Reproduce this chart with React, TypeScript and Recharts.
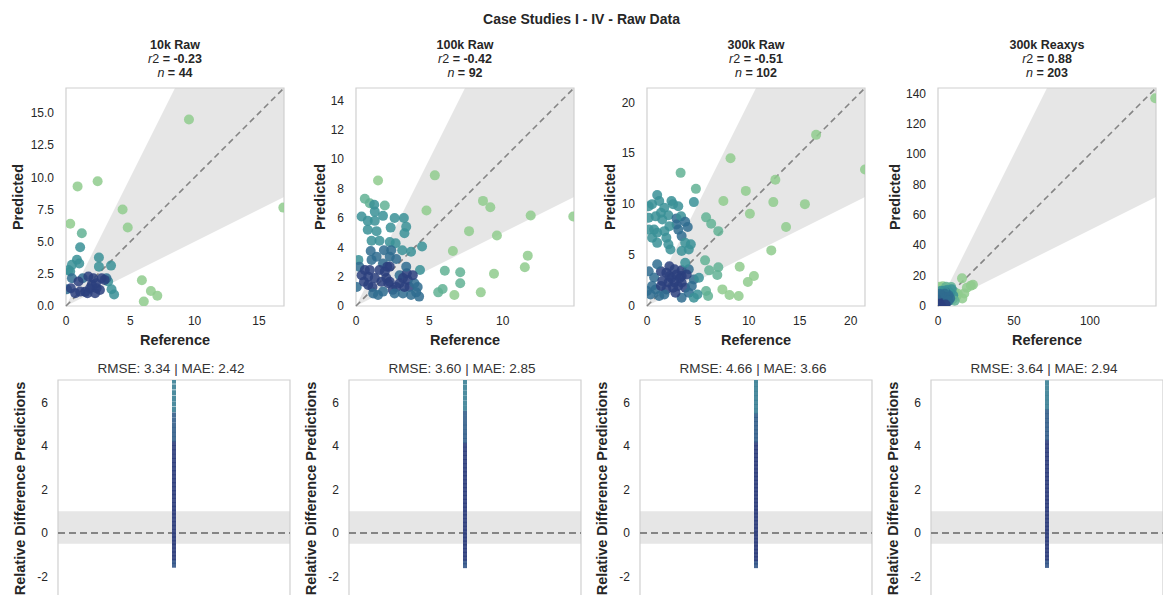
import React from 'react';
import {
  ComposedChart,
  Scatter,
  Area,
  XAxis,
  YAxis,
  ReferenceLine,
  ReferenceArea,
  Label,
} from 'recharts';

// [reference, predicted, density level 0 (sparse) .. 4 (dense)]
const raw10kPoints: number[][] = [
  [9.56, 14.5, 0], [0.9, 9.3, 0], [2.46, 9.7, 0], [0.33, 6.4, 0], [4.4, 7.5, 0],
  [4.8, 6.1, 0], [16.9, 7.65, 0], [5.9, 2.0, 0], [6.05, 0.35, 0], [6.6, 1.17, 0],
  [7.1, 0.8, 0], [1.23, 5.66, 1], [1.1, 4.57, 2], [2.56, 3.77, 2], [2.56, 3.06, 2],
  [3.5, 3.14, 2], [3.54, 1.3, 2], [3.74, 0.9, 2], [0.33, 2.68, 2], [0.85, 3.6, 2],
  [1.03, 3.3, 2], [0.46, 3.2, 2], [0.2, 2.8, 2], [3.28, 1.9, 2], [0.08, 1.3, 3],
  [0.46, 2.16, 3], [1.3, 2.16, 3], [3.15, 2.16, 3], [0.97, 1.9, 4], [1.74, 2.29, 4],
  [1.87, 1.38, 4], [1.5, 1.1, 4], [2.26, 1.0, 4], [2.38, 1.38, 4], [2.64, 1.25, 4],
  [2.77, 2.16, 4], [3.0, 2.03, 4], [0.72, 1.0, 4], [0.38, 1.38, 4], [2.13, 2.16, 4],
  [2.33, 1.77, 4], [1.67, 0.99, 4], [1.1, 1.12, 4], [2.0, 1.64, 4],
];

const raw100kPoints: number[][] = [
  [1.5, 8.55, 0], [5.37, 8.9, 0], [4.8, 6.5, 0], [8.65, 7.16, 0], [9.15, 6.73, 0],
  [11.9, 6.16, 0], [14.8, 6.1, 0], [7.7, 5.1, 0], [9.6, 4.8, 0], [6.6, 3.75, 0],
  [11.7, 3.43, 0], [11.5, 2.64, 0], [6.05, 2.4, 1], [7.1, 2.3, 1], [7.1, 1.55, 1],
  [9.4, 2.2, 0], [5.6, 0.93, 1], [5.9, 1.16, 1], [6.7, 0.75, 0], [8.5, 0.93, 0],
  [0.6, 7.3, 1], [0.94, 7.0, 1], [1.24, 6.9, 2], [1.96, 6.84, 1], [1.28, 6.43, 2],
  [0.38, 6.1, 2], [0.8, 5.8, 2], [1.28, 5.8, 2], [1.84, 6.14, 2], [0.8, 5.2, 2],
  [2.63, 6.0, 2], [3.26, 6.0, 2], [3.42, 5.4, 2], [3.3, 4.95, 2], [2.36, 5.34, 2],
  [1.06, 4.45, 2], [1.6, 4.45, 2], [2.3, 4.36, 2], [2.7, 4.27, 2], [4.5, 4.05, 2],
  [3.15, 3.8, 2], [3.75, 3.7, 2], [2.4, 3.8, 3], [1.9, 3.8, 3], [1.4, 3.36, 3],
  [1.0, 3.75, 3], [2.3, 3.36, 3], [2.74, 3.2, 3], [0.16, 3.14, 2], [0.22, 2.68, 3],
  [1.06, 3.14, 3], [1.84, 2.9, 3], [4.36, 2.45, 2], [2.97, 2.1, 3], [0.38, 2.1, 4],
  [0.83, 2.0, 4], [1.28, 1.9, 4], [2.07, 1.9, 4], [2.3, 1.65, 4], [2.13, 2.68, 4],
  [3.2, 1.9, 4], [3.53, 1.77, 4], [3.64, 1.3, 4], [3.98, 1.55, 3], [3.2, 0.86, 3],
  [3.75, 0.75, 3], [4.1, 0.93, 3], [2.5, 1.1, 4], [2.2, 1.55, 4], [1.12, 1.3, 4],
  [0.83, 1.43, 4], [1.17, 0.86, 3], [0.05, 1.3, 3], [1.6, 2.45, 4], [1.96, 2.34, 4],
  [3.46, 2.23, 4], [2.74, 1.3, 4], [0.54, 1.65, 4], [2.97, 1.55, 4], [1.73, 1.65, 4],
  [4.2, 1.3, 3], [3.3, 1.3, 4], [3.42, 2.68, 3], [1.4, 5.1, 2], [2.3, 2.68, 4],
  [0.94, 2.45, 4], [1.5, 0.75, 3], [0.6, 2.45, 4], [2.63, 0.86, 3], [1.84, 0.98, 3],
  [4.3, 0.64, 3], [3.87, 2.1, 4],
];

const raw300kPoints: number[][] = [
  [8.2, 14.5, 0], [16.6, 16.8, 0], [21.4, 13.4, 0], [12.6, 12.4, 0], [9.7, 11.3, 0],
  [7.5, 10.3, 0], [12.4, 10.2, 0], [15.5, 10.0, 0], [10.1, 9.05, 0], [13.65, 7.75, 0],
  [12.2, 5.46, 0], [9.1, 3.86, 0], [10.5, 2.94, 0], [9.9, 2.35, 0], [7.4, 1.63, 0],
  [8.1, 1.08, 0], [9.0, 0.98, 0], [7.0, 3.8, 1], [4.8, 11.5, 1], [4.6, 10.2, 2],
  [5.8, 8.7, 1], [6.3, 8.07, 1], [7.0, 7.35, 1], [5.7, 4.48, 1], [6.1, 3.5, 1],
  [6.9, 3.04, 1], [3.3, 13.07, 1], [5.8, 1.47, 1], [6.0, 0.98, 1], [4.95, 1.14, 2],
  [1.0, 10.9, 2], [0.5, 10.0, 2], [1.2, 10.3, 2], [2.4, 10.3, 2], [2.56, 10.0, 2],
  [1.7, 9.64, 2], [1.37, 9.15, 2], [0.17, 8.66, 2], [0.85, 8.8, 2], [2.1, 8.9, 2],
  [2.9, 8.6, 3], [3.35, 8.8, 2], [3.75, 8.27, 3], [2.9, 8.0, 3], [2.2, 7.84, 2],
  [4.0, 7.75, 3], [0.7, 7.5, 2], [1.0, 7.2, 2], [1.9, 6.7, 2], [3.4, 6.86, 3],
  [0.5, 6.7, 2], [3.75, 6.2, 2], [4.3, 6.05, 2], [1.0, 6.2, 2], [2.1, 6.05, 2],
  [3.4, 5.4, 2], [2.3, 5.55, 2], [4.1, 5.55, 2], [0.17, 9.8, 2], [3.07, 7.5, 3],
  [0.17, 3.4, 3], [0.7, 2.8, 3], [1.37, 3.4, 4], [1.9, 3.27, 4], [2.7, 3.6, 4],
  [3.4, 3.5, 4], [4.1, 3.6, 3], [4.6, 2.6, 3], [1.5, 2.45, 4], [2.1, 2.3, 4],
  [2.7, 2.3, 4], [3.07, 1.96, 4], [3.4, 2.3, 4], [3.75, 1.8, 4], [2.56, 1.8, 4],
  [1.9, 1.63, 4], [0.85, 1.63, 3], [0.34, 1.14, 3], [1.2, 0.98, 3], [2.4, 2.78, 4],
  [3.24, 2.78, 4], [4.1, 1.3, 3], [3.4, 0.82, 3], [4.4, 1.96, 3], [2.2, 2.94, 4],
  [2.9, 3.1, 4], [1.7, 1.14, 3], [0.5, 1.96, 3], [0.0, 1.47, 3], [4.6, 0.82, 2],
  [2.8, 1.3, 4], [3.4, 2.94, 4], [1.5, 8.5, 2], [3.07, 9.8, 2], [0.17, 7.5, 2],
  [1.7, 7.35, 2], [3.75, 4.25, 2], [1.0, 4.1, 3], [2.2, 3.9, 4], [3.9, 3.1, 4],
  [1.37, 1.96, 4], [5.1, 2.78, 2],
];

const reaxysPoints: number[][] = [
  [143.0, 136.7, 0], [15.8, 18.2, 0], [21.6, 13.4, 0], [17.3, 8.3, 0], [19.0, 12.0, 0],
  [12.0, 6.1, 0], [23.0, 14.0, 0], [16.0, 5.0, 0], [3.2, 13.0, 0], [1.1, 12.7, 0],
  [8.7, 12.5, 1], [11.0, 9.0, 1], [9.6, 4.4, 1], [13.0, 8.0, 0], [5.4, 12.7, 1],
  [9.0, 11.0, 2], [10.0, 7.0, 2], [2.0, 10.0, 2], [6.0, 10.5, 2], [8.0, 8.5, 2],
  [11.0, 3.5, 1], [3.0, 8.0, 3], [5.0, 9.0, 3], [7.0, 7.0, 3], [1.0, 6.0, 3],
  [6.0, 3.0, 3], [8.0, 5.0, 3], [4.0, 10.0, 2], [2.0, 2.0, 4], [3.0, 4.0, 4],
  [4.0, 3.0, 4], [5.0, 5.0, 4], [1.0, 1.0, 4], [2.0, 5.0, 4], [3.0, 1.5, 4],
  [4.0, 6.0, 4], [5.0, 2.0, 4], [6.0, 4.0, 3], [1.5, 3.0, 4], [2.5, 7.0, 3],
  [3.5, 5.5, 4], [0.5, 4.0, 4], [4.5, 8.0, 3], [6.0, 6.0, 3], [7.0, 3.5, 3],
  [1.0, 8.0, 3], [2.0, 0.5, 4], [5.0, 1.0, 4],
];

// relative difference of predictions, one strip per case study
const raw10kRelDiff = [
  -1.48, -1.31, -1.14, -0.96, -0.79, -0.6, -0.44, -0.27, -0.1, 0.07, 0.26, 0.43,
  0.61, 0.79, 0.96, 1.14, 1.31, 1.5, 1.69, 1.86, 2.04, 2.23, 2.41, 2.59, 2.78,
  2.96, 3.15, 3.34, 3.53, 3.74, 3.93, 4.13, 4.33, 4.54, 4.75, 4.96, 5.2, 5.44,
  5.69, 5.95, 6.2, 6.46, 6.73, 7.0,
];
const raw100kRelDiff = [
  -1.5, -1.33, -1.16, -0.98, -0.81, -0.63, -0.46, -0.29, -0.12, 0.05, 0.22, 0.4,
  0.57, 0.75, 0.92, 1.1, 1.28, 1.46, 1.64, 1.82, 2.0, 2.18, 2.36, 2.55, 2.73,
  2.91, 3.1, 3.29, 3.48, 3.67, 3.86, 4.06, 4.26, 4.46, 4.66, 4.87, 5.08, 5.3,
  5.52, 5.75, 5.98, 6.22, 6.46, 6.71, 6.96, 7.3,
];
const raw300kRelDiff = [
  -1.5, -1.34, -1.18, -1.01, -0.85, -0.68, -0.51, -0.35, -0.18, -0.02, 0.15,
  0.31, 0.48, 0.65, 0.82, 0.98, 1.15, 1.32, 1.49, 1.66, 1.83, 2.0, 2.17, 2.34,
  2.52, 2.69, 2.86, 3.04, 3.21, 3.39, 3.57, 3.75, 3.93, 4.11, 4.29, 4.48, 4.66,
  4.85, 5.04, 5.23, 5.42, 5.62, 5.82, 6.02, 6.22, 6.43, 6.64, 6.85, 7.06,
];
const reaxysRelDiff = [
  -1.49, -1.32, -1.15, -0.98, -0.8, -0.63, -0.46, -0.29, -0.12, 0.05, 0.22,
  0.39, 0.57, 0.74, 0.91, 1.09, 1.26, 1.44, 1.61, 1.79, 1.97, 2.15, 2.33, 2.51,
  2.69, 2.87, 3.06, 3.24, 3.43, 3.62, 3.81, 4.0, 4.19, 4.39, 4.58, 4.78, 4.98,
  5.18, 5.39, 5.6, 5.81, 6.02, 6.24, 6.46, 6.69, 6.92, 7.2,
];

const panelNames = ['10k Raw', '100k Raw', '300k Raw', '300k Reaxys'];
const r2Values = ['-0.23', '-0.42', '-0.51', '0.88'];
const nValues = [44, 92, 102, 203];
const rmseValues = ['3.34', '3.60', '4.66', '3.64'];
const maeValues = ['2.42', '2.85', '3.66', '2.94'];
const axisMax = [16.95, 14.85, 21.4, 143.5];
const xTicks = [[0, 5, 10, 15], [0, 5, 10], [0, 5, 10, 15, 20], [0, 50, 100]];
const yTicks = [
  [0, 2.5, 5, 7.5, 10, 12.5, 15],
  [0, 2, 4, 6, 8, 10, 12, 14],
  [0, 5, 10, 15, 20],
  [0, 20, 40, 60, 80, 100, 120, 140],
];
const relTicks = [-2, 0, 2, 4, 6];
const pointSets = [raw10kPoints, raw100kPoints, raw300kPoints, reaxysPoints];
const relSets = [raw10kRelDiff, raw100kRelDiff, raw300kRelDiff, reaxysRelDiff];

const CONE_LOW = 0.5;
const CONE_HIGH = 2;
const REL_BAND: [number, number] = [-0.5, 1];
const REL_DOMAIN: [number, number] = [-2.95, 7.05];

const LEVEL_COLORS = ['#8fcb8d', '#62b294', '#3a9096', '#2f6c8f', '#2b3f7e'];
const TEXT = '#262626';
const FRAME = '#d0d0d0';
const FONT = '"Liberation Sans", Arial, Helvetica, sans-serif';

// top row geometry
const TOP_PLOT_LEFT = [66, 356, 647, 938];
const TOP_PLOT_TOP = 88;
const TOP_PLOT_SIZE = 218;
const TOP_YAXIS_W = 62;
const TOP_LABEL_GAP = [48, 36, 37, 43];

// bottom row geometry
const BOT_PLOT_LEFT = [58, 349, 640, 931];
const BOT_PLOT_TOP = 380;
const BOT_PLOT_W = 232;
const BOT_PLOT_H = 217;
const BOT_YAXIS_W = 55;

function stripColor(v: number) {
  if (v > 5.6) return '#3a7f95';
  if (v > 4.2) return '#345f8b';
  if (v < -1.2) return '#34568a';
  return '#303f7d';
}

function ParityPanel({ idx }: { idx: number }) {
  const max = axisMax[idx];
  const cone = [
    { x: 0, band: [0, 0] },
    { x: max / CONE_HIGH, band: [(max / CONE_HIGH) * CONE_LOW, max] },
    { x: max, band: [max * CONE_LOW, Math.min(max * CONE_HIGH, max)] },
  ];
  const points = pointSets[idx].map(([x, y, c]) => ({ x, y, c }));
  const width = TOP_YAXIS_W + TOP_PLOT_SIZE + 5;
  const height = 5 + TOP_PLOT_SIZE + 45;
  const fmt = (v: number) => (idx === 0 ? v.toFixed(1) : String(v));

  return (
    <div
      style={{
        position: 'absolute',
        left: TOP_PLOT_LEFT[idx] - TOP_YAXIS_W,
        top: TOP_PLOT_TOP - 5,
        width,
        height,
      }}
    >
      <ComposedChart
        width={width}
        height={height}
        data={cone}
        margin={{ top: 5, right: 5, bottom: 0, left: 0 }}
      >
        <XAxis
          type="number"
          dataKey="x"
          domain={[0, max]}
          ticks={xTicks[idx]}
          allowDataOverflow
          axisLine={false}
          tickLine={false}
          tickSize={0}
          tickMargin={10}
          height={45}
          tick={{ fontSize: 12, fill: TEXT }}
        >
          <Label
            value="Reference"
            position="insideBottom"
            offset={6}
            style={{ fontSize: 14.5, fontWeight: 'bold', fill: TEXT }}
          />
        </XAxis>
        <YAxis
          type="number"
          dataKey="y"
          domain={[0, max]}
          ticks={yTicks[idx]}
          tickFormatter={fmt}
          allowDataOverflow
          axisLine={false}
          tickLine={false}
          tickSize={0}
          tickMargin={12}
          width={TOP_YAXIS_W}
          tick={{ fontSize: 12, fill: TEXT }}
        >
          <Label
            value="Predicted"
            angle={-90}
            position="insideLeft"
            offset={TOP_YAXIS_W - TOP_LABEL_GAP[idx]}
            style={{ textAnchor: 'middle', fontSize: 14.5, fontWeight: 'bold', fill: TEXT }}
          />
        </YAxis>
        <Area
          type="linear"
          dataKey="band"
          stroke="none"
          fill="#e6e6e6"
          fillOpacity={1}
          isAnimationActive={false}
          activeDot={false}
        />
        <ReferenceLine
          segment={[{ x: 0, y: 0 }, { x: max, y: max }]}
          stroke="#858585"
          strokeWidth={1.6}
          strokeDasharray="6 4"
        />
        <Scatter
          data={points}
          isAnimationActive={false}
          shape={(p: any) => (
            <circle
              cx={p.cx}
              cy={p.cy}
              r={5}
              fill={LEVEL_COLORS[p.payload.c]}
              fillOpacity={0.85}
            />
          )}
        />
        <ReferenceArea x1={0} x2={max} y1={0} y2={max} fill="none" stroke={FRAME} strokeWidth={1.2} />
      </ComposedChart>
    </div>
  );
}

function ResidualPanel({ idx }: { idx: number }) {
  const data = relSets[idx].map((v) => ({ x: 0, y: v }));
  const width = BOT_YAXIS_W + BOT_PLOT_W + 2;
  const height = BOT_PLOT_H + 4;

  return (
    <div
      style={{
        position: 'absolute',
        left: BOT_PLOT_LEFT[idx] - BOT_YAXIS_W,
        top: BOT_PLOT_TOP - 2,
        width,
        height,
      }}
    >
      <ComposedChart width={width} height={height} margin={{ top: 2, right: 2, bottom: 2, left: 0 }}>
        <XAxis type="number" dataKey="x" domain={[-1, 1]} hide />
        <YAxis
          type="number"
          dataKey="y"
          domain={REL_DOMAIN}
          ticks={relTicks}
          allowDataOverflow
          axisLine={false}
          tickLine={false}
          tickSize={0}
          tickMargin={10}
          width={BOT_YAXIS_W}
          tick={{ fontSize: 12, fill: TEXT }}
        >
          <Label
            value="Relative Difference Predictions"
            angle={-90}
            position="insideLeft"
            offset={BOT_YAXIS_W - 38}
            style={{ textAnchor: 'middle', fontSize: 14.5, fontWeight: 'bold', fill: TEXT }}
          />
        </YAxis>
        <ReferenceArea x1={-1} x2={1} y1={REL_BAND[0]} y2={REL_BAND[1]} fill="#e6e6e6" fillOpacity={1} stroke="none" />
        <ReferenceLine y={0} stroke="#858585" strokeWidth={1.8} strokeDasharray="7 4" />
        <Scatter
          data={data}
          isAnimationActive={false}
          shape={(p: any) => (
            <rect x={p.cx - 2} y={p.cy - 2.6} width={4} height={5.2} fill={stripColor(p.payload.y)} fillOpacity={0.9} />
          )}
        />
        <ReferenceArea x1={-1} x2={1} y1={REL_DOMAIN[0]} y2={REL_DOMAIN[1]} fill="none" stroke={FRAME} strokeWidth={1.2} />
      </ComposedChart>
    </div>
  );
}

export default function App() {
  return (
    <div
      style={{
        position: 'absolute',
        left: 0,
        top: 0,
        width: 1163,
        height: 595,
        overflow: 'hidden',
        background: '#fff',
        fontFamily: FONT,
        color: TEXT,
      }}
    >
      <div
        style={{
          position: 'absolute',
          left: 0,
          width: 1163,
          top: 11,
          textAlign: 'center',
          fontSize: 14,
          fontWeight: 'bold',
        }}
      >
        Case Studies I - IV - Raw Data
      </div>
      {panelNames.map((name, i) => (
        <div
          key={name}
          style={{
            position: 'absolute',
            left: TOP_PLOT_LEFT[i],
            width: TOP_PLOT_SIZE,
            top: 38,
            textAlign: 'center',
            fontSize: 12.5,
            fontWeight: 'bold',
            lineHeight: '14px',
          }}
        >
          <div>{name}</div>
          <div>
            <span style={{ fontStyle: 'italic', fontWeight: 'normal' }}>r</span>
            <span style={{ fontWeight: 'normal' }}>2</span> = {r2Values[i]}
          </div>
          <div>
            <span style={{ fontStyle: 'italic', fontWeight: 'normal' }}>n</span> = {nValues[i]}
          </div>
        </div>
      ))}
      {panelNames.map((name, i) => (
        <ParityPanel key={'p' + name} idx={i} />
      ))}
      {panelNames.map((name, i) => (
        <div
          key={'t' + name}
          style={{
            position: 'absolute',
            left: BOT_PLOT_LEFT[i] - 3,
            width: BOT_PLOT_W,
            top: 361,
            textAlign: 'center',
            fontSize: 13.5,
            color: '#333',
          }}
        >
          RMSE: {rmseValues[i]} | MAE: {maeValues[i]}
        </div>
      ))}
      {panelNames.map((name, i) => (
        <ResidualPanel key={'r' + name} idx={i} />
      ))}
    </div>
  );
}
